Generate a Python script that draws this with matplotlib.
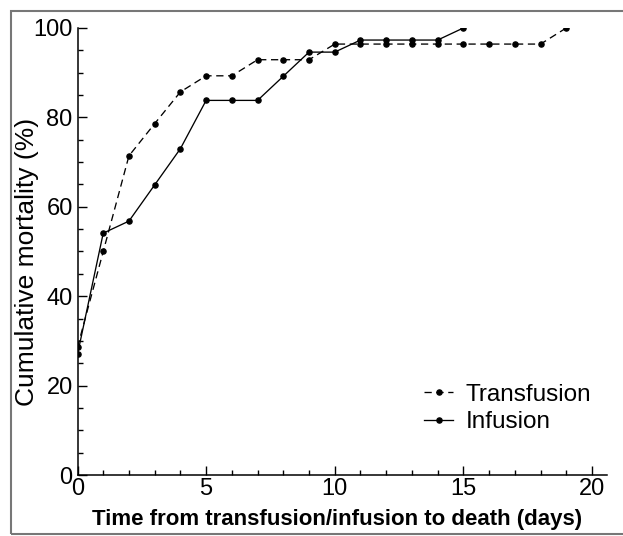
import matplotlib
matplotlib.use("Agg")
import matplotlib.pyplot as plt
from matplotlib.patches import Rectangle
from matplotlib.ticker import MultipleLocator

plt.rcParams['font.family'] = ['Liberation Sans', 'DejaVu Sans']

days = [0, 1, 2, 3, 4, 5, 6, 7, 8, 9, 10, 11, 12, 13, 14, 15, 16, 17, 18, 19]
transfusion = [28.6, 50.0, 71.4, 78.6, 85.7, 89.3, 89.3, 92.9, 92.9, 92.9,
               96.4, 96.4, 96.4, 96.4, 96.4, 96.4, 96.4, 96.4, 96.4, 100.0]
days_inf = [0, 1, 2, 3, 4, 5, 6, 7, 8, 9, 10, 11, 12, 13, 14, 15]
infusion = [27.0, 54.1, 56.8, 64.9, 73.0, 83.8, 83.8, 83.8, 89.2, 94.6,
            94.6, 97.3, 97.3, 97.3, 97.3, 100.0]

fig = plt.figure(figsize=(6.23, 5.36), dpi=100)
ax = fig.add_axes([0.1244, 0.1138, 0.8506, 0.834])

# outer frame
fig.patches.append(Rectangle((11 / 623, 2 / 536), 1.2, (534 - 11) / 536,
                             transform=fig.transFigure, fill=False,
                             edgecolor='#777777', linewidth=1.5))

ax.plot(days, transfusion, color='black', linestyle=(0, (5.5, 3.5)),
        linewidth=0.95, marker='o', markersize=3.7, label='Transfusion')
ax.plot(days_inf, infusion, color='black', linestyle='-',
        linewidth=0.95, marker='o', markersize=3.7, label='Infusion')

ax.set_xlim(0, 20.6)
ax.set_ylim(0, 100)
ax.spines['top'].set_visible(False)
ax.spines['right'].set_visible(False)
for s in ['left', 'bottom']:
    ax.spines[s].set_linewidth(1.1)

ax.xaxis.set_major_locator(MultipleLocator(5))
ax.xaxis.set_minor_locator(MultipleLocator(1))
ax.yaxis.set_major_locator(MultipleLocator(20))
ax.yaxis.set_minor_locator(MultipleLocator(5))
ax.tick_params(which='both', direction='in', width=1.0, labelsize=17)
ax.tick_params(which='major', length=6.5)
ax.tick_params(which='minor', length=3.5)
ax.tick_params(axis='y', pad=3.5)
ax.tick_params(axis='x', pad=2)

ax.set_ylabel('Cumulative mortality (%)', fontsize=19)
ax.yaxis.set_label_coords(-0.073, 0.4765)
ax.set_xlabel('Time from transfusion/infusion to death (days)',
              fontsize=16, fontweight='bold')
ax.xaxis.set_label_coords(0.4905, -0.076)

ax.legend(loc='upper left', bbox_to_anchor=(0.654, 0.204), frameon=False,
          fontsize=17.5, handlelength=1.2, handletextpad=0.5,
          labelspacing=0.22, borderpad=0, borderaxespad=0)

fig.savefig('out.png', dpi=100)
